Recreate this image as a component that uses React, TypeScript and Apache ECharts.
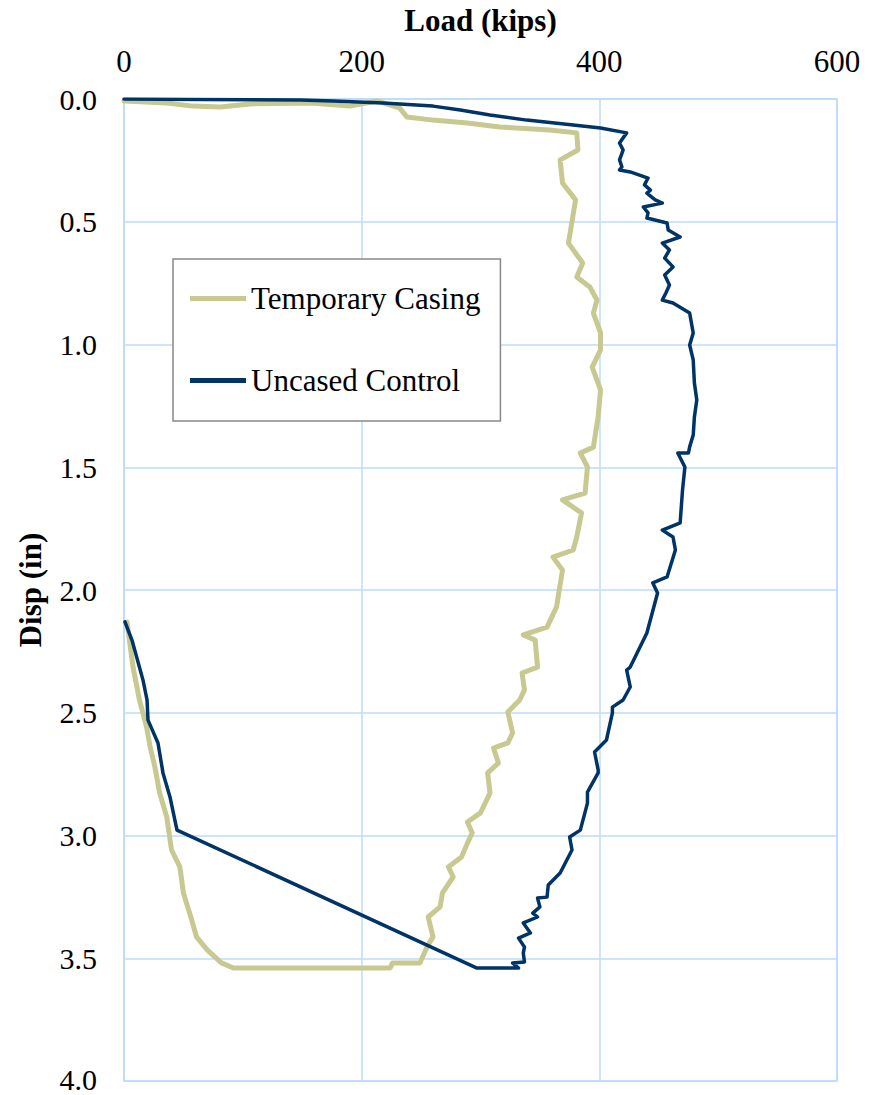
import React, { useEffect, useRef } from "react";
import * as echarts from "echarts";

const xTicks = [0, 200, 400, 600];
const yTicks = [0, 0.5, 1, 1.5, 2, 2.5, 3, 3.5, 4];

const seriesNames = ["Temporary Casing", "Uncased Control"];

const casingLoad = [
  0, 36, 58, 81, 106, 157, 190, 213, 232, 238, 260, 289, 316, 358, 381, 382, 367, 369, 380, 374,
  386, 381, 392, 398, 395, 401, 401, 394, 401, 399, 395, 384, 390, 388, 369, 385, 381, 378, 361, 369,
  364, 356, 336, 346, 348, 335, 337, 333, 323, 327, 323, 311, 315, 306, 308, 300, 289, 293, 289, 284,
  273, 277, 268, 266, 256, 260, 255, 249, 226, 224, 92, 82, 70, 61, 57, 50, 47, 40, 36, 30,
  26, 22, 19, 13, 7.6, 2.5,
];
const casingDisp = [
  0.008, 0.016, 0.029, 0.033, 0.02, 0.016, 0.029, 0.008, 0.037, 0.073, 0.086, 0.098, 0.114, 0.126, 0.138, 0.208, 0.248, 0.342, 0.411, 0.587,
  0.668, 0.725, 0.766, 0.819, 0.872, 0.953, 1.022, 1.092, 1.185, 1.295, 1.418, 1.442, 1.499, 1.605, 1.633, 1.686, 1.784, 1.837, 1.866, 1.919,
  2.069, 2.151, 2.183, 2.204, 2.314, 2.338, 2.407, 2.448, 2.497, 2.582, 2.623, 2.644, 2.705, 2.745, 2.827, 2.908, 2.945, 2.99, 3.031, 3.088,
  3.128, 3.169, 3.234, 3.291, 3.332, 3.413, 3.454, 3.519, 3.519, 3.54, 3.54, 3.519, 3.466, 3.413, 3.344, 3.234, 3.128, 3.059, 2.925, 2.827,
  2.721, 2.64, 2.558, 2.448, 2.314, 2.13,
];

const controlLoad = [
  0, 64, 148, 176, 218, 260, 283, 308, 339, 378, 401, 423, 417, 420, 417, 419, 417, 426, 441, 438,
  443, 440, 447, 453, 437, 441, 440, 457, 458, 468, 453, 459, 455, 462, 455, 459, 456, 453, 462, 476,
  479, 476, 479, 480, 482, 480, 479, 476, 475, 466, 472, 470, 468, 464, 453, 462, 464, 457, 445, 449,
  440, 426, 423, 426, 420, 411, 411, 406, 396, 399, 399, 390, 390, 384, 375, 377, 367, 357, 356, 348,
  350, 344, 348, 336, 342, 332, 337, 336, 337, 327, 332, 297, 44.6, 38.7, 32.8, 28.6, 20.2, 19.4, 16, 6.7,
  0.8,
];
const controlDisp = [
  0, 0.002, 0.004, 0.008, 0.016, 0.029, 0.045, 0.065, 0.086, 0.106, 0.118, 0.138, 0.179, 0.208, 0.248, 0.277, 0.289, 0.297, 0.322, 0.35,
  0.371, 0.383, 0.411, 0.424, 0.44, 0.464, 0.485, 0.505, 0.534, 0.562, 0.587, 0.615, 0.648, 0.684, 0.717, 0.758, 0.79, 0.819, 0.831, 0.872,
  0.953, 1.002, 1.063, 1.157, 1.226, 1.295, 1.369, 1.417, 1.442, 1.442, 1.499, 1.593, 1.727, 1.735, 1.756, 1.784, 1.837, 1.947, 1.971, 2.012,
  2.175, 2.314, 2.326, 2.395, 2.448, 2.477, 2.501, 2.611, 2.66, 2.733, 2.745, 2.823, 2.868, 2.978, 3.006, 3.059, 3.153, 3.202, 3.251, 3.255,
  3.291, 3.316, 3.332, 3.356, 3.397, 3.418, 3.454, 3.479, 3.515, 3.519, 3.54, 3.54, 2.978, 2.843, 2.745, 2.623, 2.53, 2.448, 2.367, 2.204,
  2.13,
];

const FONT = "Liberation Serif";
const GRID_COLOR = "#bcdcfa";
const CASING_COLOR = "#c8c891";
const CONTROL_COLOR = "#003366";

export default function App() {
  const ref = useRef<HTMLDivElement>(null);

  useEffect(() => {
    if (!ref.current) return;
    const chart = echarts.init(ref.current, null, { renderer: "svg" });

    const casingData = casingLoad.map((v, i) => [v, casingDisp[i]]);
    const controlData = controlLoad.map((v, i) => [v, controlDisp[i]]);
    const yMax = yTicks[yTicks.length - 1];

    chart.setOption({
      animation: false,
      backgroundColor: "#ffffff",
      textStyle: { fontFamily: FONT },
      grid: {
        left: 124,
        top: 99,
        width: 713,
        height: 982,
        show: true,
        borderColor: GRID_COLOR,
        borderWidth: 1.5,
        containLabel: false,
        outerBoundsMode: "none",
      },
      legend: {
        orient: "vertical",
        left: 173,
        top: 259,
        padding: [24, 20, 25, 17],
        itemGap: 51,
        itemWidth: 56,
        itemHeight: 5,
        icon: "rect",
        borderColor: "#888888",
        borderWidth: 1.5,
        borderRadius: 0,
        backgroundColor: "#ffffff",
        textStyle: { fontFamily: FONT, fontSize: 31, color: "#000000", padding: [0, 0, 0, 0] },
        data: seriesNames,
      },
      xAxis: {
        type: "value",
        position: "top",
        min: xTicks[0],
        max: xTicks[xTicks.length - 1],
        interval: 200,
        name: "Load (kips)",
        nameLocation: "middle",
        nameGap: 63,
        nameMoveOverlap: false,
        nameTextStyle: { fontFamily: FONT, fontSize: 31, fontWeight: "bold", color: "#000000" },
        axisLine: { show: true, lineStyle: { color: GRID_COLOR, width: 1.5 } },
        axisTick: { show: false },
        axisLabel: { fontFamily: FONT, fontSize: 31, color: "#000000", margin: 22 },
        splitLine: { show: true, lineStyle: { color: GRID_COLOR, width: 1.5 } },
      },
      yAxis: {
        type: "value",
        inverse: true,
        min: yTicks[0],
        max: yMax,
        interval: 0.5,
        name: "Disp (in)",
        nameLocation: "middle",
        nameGap: 78,
        nameMoveOverlap: false,
        nameTextStyle: { fontFamily: FONT, fontSize: 31, fontWeight: "bold", color: "#000000" },
        axisLine: { show: true, lineStyle: { color: GRID_COLOR, width: 1.5 } },
        axisTick: { show: false },
        axisLabel: {
          fontFamily: FONT,
          fontSize: 30,
          lineHeight: 24,
          color: "#000000",
          margin: 27,
          formatter: (v: number) => (v === yMax ? "{e|" + v.toFixed(1) + "}" : v.toFixed(1)),
          rich: {
            e: { fontFamily: FONT, fontSize: 30, lineHeight: 22, color: "#000000", padding: [0, 0, 4, 0] },
          },
        },
        splitLine: { show: true, lineStyle: { color: GRID_COLOR, width: 1.5 } },
      },
      series: [
        {
          name: seriesNames[0],
          type: "line",
          symbol: "none",
          showSymbol: false,
          data: casingData,
          lineStyle: { color: CASING_COLOR, width: 5, join: "round", cap: "round" },
          itemStyle: { color: CASING_COLOR },
          z: 2,
        },
        {
          name: seriesNames[1],
          type: "line",
          symbol: "none",
          showSymbol: false,
          data: controlData,
          lineStyle: { color: CONTROL_COLOR, width: 3.5, join: "round", cap: "round" },
          itemStyle: { color: CONTROL_COLOR },
          z: 3,
        },
      ],
    });

    return () => chart.dispose();
  }, []);

  return (
    <div
      ref={ref}
      style={{ position: "absolute", left: 0, top: 0, width: 881, height: 1095 }}
    />
  );
}
